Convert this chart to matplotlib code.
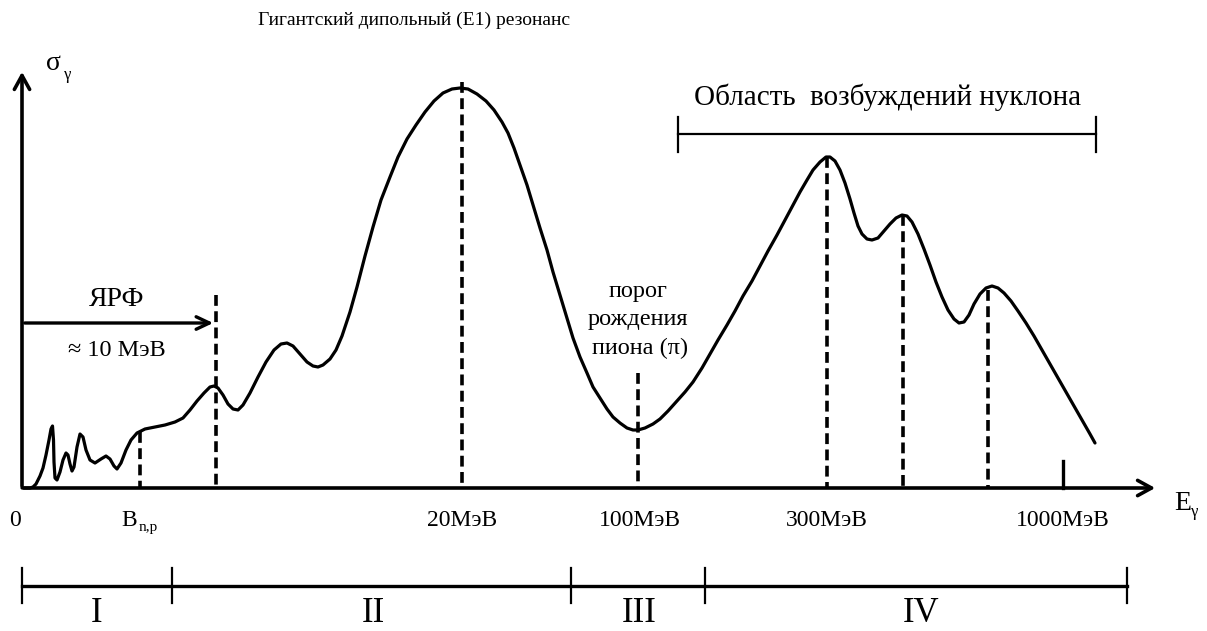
import numpy as np
import matplotlib
matplotlib.use('Agg')
import matplotlib.pyplot as plt

plt.rcParams['font.family'] = ['Liberation Serif', 'DejaVu Serif']

# curve points (pixel coords, y down)
curve_x = [22, 30, 33, 36, 40, 43, 46, 49, 51, 52.5, 53.5, 54, 55, 57, 60, 63, 66, 68, 70, 72, 74, 77, 80, 83, 86,
           90, 95, 101, 106, 110, 114, 117, 121, 126, 131, 137, 145, 155, 165, 175, 183, 190, 197, 204, 210, 214,
           218, 223, 228, 233, 238, 243, 250, 258, 266, 274, 281, 287, 293, 300, 307, 313, 318, 323, 330, 336,
           342, 350, 357, 365, 373, 381, 390, 398, 407, 416, 425, 434, 443, 452, 460, 468, 477, 486, 494, 502,
           508, 514, 520, 527, 533, 540, 547, 553, 560, 567, 573, 580, 587, 593, 600, 607, 613, 620, 627, 633,
           638, 645, 653, 660, 668, 677, 685, 693, 702, 710, 718, 727, 735, 743, 752, 760, 768, 777, 785, 793,
           800, 807, 813, 820, 826, 830, 835, 840, 845, 850, 854, 858, 862, 867, 872, 878, 884, 890, 896, 902,
           907, 912, 918, 924, 930, 936, 942, 948, 954, 959, 964, 969, 974, 980, 986, 992, 998, 1004, 1011, 1018,
           1026, 1034, 1042, 1050, 1058, 1066, 1074, 1082, 1090, 1095]
curve_y = [488, 488, 487, 484, 476, 468, 455, 440, 429, 426, 440, 462, 478, 480, 472, 460, 453, 455, 464, 471, 467,
           447, 434, 437, 450, 460, 463, 459, 456, 459, 466, 469, 463, 450, 440, 433, 429, 427, 425, 422, 418,
           410, 401, 393, 387, 386, 388, 395, 404, 409, 410, 405, 393, 377, 362, 350, 344, 343, 346, 354, 362,
           366, 367, 365, 359, 350, 336, 312, 287, 256, 227, 200, 177, 157, 139, 125, 112, 101, 93, 89, 88, 89,
           94, 101, 110, 122, 133, 148, 165, 185, 205, 228, 250, 272, 295, 318, 338, 357, 373, 387, 398, 409,
           417, 423, 428, 430, 430, 428, 424, 419, 411, 401, 392, 382, 368, 354, 340, 325, 311, 296, 281, 266,
           251, 235, 220, 205, 192, 180, 170, 162, 157, 157, 161, 170, 183, 199, 213, 226, 234, 239, 240, 238,
           231, 224, 218, 215, 216, 222, 234, 249, 265, 282, 297, 310, 319, 323, 322, 315, 304, 294, 288, 286,
           288, 293, 301, 311, 323, 336, 350, 364, 378, 392, 406, 420, 434, 443]

# dashed markers: x position and top of dash
dash_x = [140, 216, 462, 638, 827, 903, 988]
dash_top = [432, 295, 82, 373, 157, 215, 290]

tick_labels = ['20МэВ', '100МэВ', '300МэВ', '1000МэВ']
tick_x = [462, 640, 827, 1063]

region_edges = [22, 172, 571, 705, 1127]
region_names = ['I', 'II', 'III', 'IV']
region_label_x = [97, 373, 639, 921]

x0, y0 = 22, 488

fig = plt.figure(figsize=(12.07, 6.31), dpi=100)
ax = fig.add_axes([0, 0, 1, 1])
ax.set_xlim(0, 1207)
ax.set_ylim(631, 0)
ax.axis('off')

# axes arrows
ax.annotate('', xy=(1158, y0), xytext=(x0 - 1, y0),
            arrowprops=dict(arrowstyle='->,head_length=1.0,head_width=0.55', lw=2.6, color='k'))
ax.annotate('', xy=(x0, 69), xytext=(x0, y0 + 1),
            arrowprops=dict(arrowstyle='->,head_length=1.0,head_width=0.55', lw=2.6, color='k'))

ax.plot(curve_x, curve_y, color='k', lw=2.3, solid_capstyle='round', solid_joinstyle='round')

# dashes drawn from the top down so the pattern starts at the curve
for xd, yt in zip(dash_x, dash_top):
    ax.plot([xd, xd], [yt, y0], color='k', lw=2.6, dashes=(3.0, 1.5))
ax.plot([1063, 1063], [y0, 461], color='k', lw=2.4)

# ЯРФ arrow
ax.annotate('', xy=(216, 323), xytext=(22, 323),
            arrowprops=dict(arrowstyle='->,head_length=0.95,head_width=0.45', lw=2.4, color='k'))
ax.text(117, 299, 'ЯРФ', fontsize=20, ha='center', va='center')
ax.text(117, 350, '≈ 10 МэВ', fontsize=17.5, ha='center', va='center')

ax.text(638, 291, 'порог', fontsize=17.5, ha='center', va='center')
ax.text(638, 319, 'рождения', fontsize=17.5, ha='center', va='center')
ax.text(640, 348, 'пиона (π)', fontsize=17.5, ha='center', va='center')

ax.text(258, 20, 'Гигантский дипольный (E1) резонанс', fontsize=14, ha='left', va='center')
ax.text(888, 97, 'Область  возбуждений нуклона', fontsize=21, ha='center', va='center')
ax.plot([678, 1096], [134, 134], color='k', lw=1.6)
ax.plot([678, 678], [117, 152], color='k', lw=1.6)
ax.plot([1096, 1096], [117, 152], color='k', lw=1.6)

# axis symbols
ax.text(46, 64, 'σ', fontsize=20, ha='left', va='center')
ax.text(64, 75, 'γ', fontsize=12, ha='left', va='center')
ax.text(1174, 504, 'E', fontsize=20, ha='left', va='center')
ax.text(1191, 512, 'γ', fontsize=12, ha='left', va='center')

# tick labels
ax.text(15, 520, '0', fontsize=17, ha='center', va='center')
ax.text(121, 520, 'B', fontsize=17, ha='left', va='center')
ax.text(139, 527, 'n,p', fontsize=11, ha='left', va='center')
for lab, xt in zip(tick_labels, tick_x):
    ax.text(xt, 520, lab, fontsize=17, ha='center', va='center')

# region bar
ax.plot([region_edges[0], region_edges[-1]], [586, 586], color='k', lw=2.4)
for xe in region_edges:
    ax.plot([xe, xe], [568, 603], color='k', lw=1.6)
for name, xc in zip(region_names, region_label_x):
    ax.text(xc, 614, name, fontsize=25, ha='center', va='center')

fig.savefig('out.png', dpi=100)
